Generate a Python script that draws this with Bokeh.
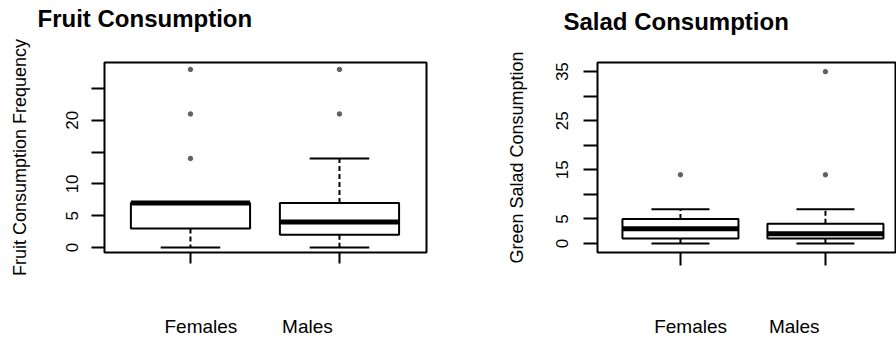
from bokeh.plotting import figure
from bokeh.models import LinearAxis, FixedTicker, Range1d, Title
from bokeh.layouts import row
from bokeh.embed import file_html
from bokeh.resources import INLINE

# ---- data ----
groups = ["Females", "Males"]
positions = [1, 2]

fruit_low = [0, 0]
fruit_q1 = [3, 2]
fruit_median = [7, 4]
fruit_q3 = [7, 7]
fruit_high = [7, 14]
fruit_out_x = [1, 1, 1, 2, 2]
fruit_out_y = [14, 21, 28, 21, 28]
fruit_ticks = [0, 5, 10, 15, 20, 25]
fruit_hidden = [15, 25]

salad_low = [0, 0]
salad_q1 = [1, 1]
salad_median = [3, 2]
salad_q3 = [5, 4]
salad_high = [7, 7]
salad_out_x = [1, 2, 2]
salad_out_y = [14, 14, 35]
salad_ticks = [0, 5, 10, 15, 20, 25, 30, 35]
salad_hidden = [10, 20, 30]

FONT = "Liberation Sans"
BOX_HALF = 0.4
CAP_HALF = 0.2
LABEL_SHIFT = [0.07, -0.215]   # group names are drawn offset from the boxes


def panel(title, ylabel, low, q1, med, q3, high, ox, oy, ticks, hidden,
          width, xr, yr, mbl, mbr, mbb, mbt, title_off, spacer_stand,
          ytick_out, ystand, ylab_stand, xtick_out, xlab_stand):
    p = figure(width=width, height=339, x_range=Range1d(*xr), y_range=Range1d(*yr),
               output_backend="svg", toolbar_location=None, title=None,
               min_border_left=mbl, min_border_right=mbr,
               min_border_bottom=mbb, min_border_top=mbt)
    p.xgrid.grid_line_color = None
    p.ygrid.grid_line_color = None
    p.outline_line_color = "black"
    p.outline_line_width = 2
    p.background_fill_color = "white"
    p.border_fill_color = "white"

    # spacer between frame and title, then the title itself
    p.add_layout(Title(text=" ", text_font_size="10px", standoff=spacer_stand), "above")
    p.add_layout(Title(text=title, text_font=FONT, text_font_size="24px",
                       text_font_style="bold", text_color="black", align="left",
                       offset=title_off, standoff=4), "above")

    ya = p.yaxis[0]
    ya.ticker = FixedTicker(ticks=ticks)
    ya.major_label_overrides = {t: "" for t in hidden}
    ya.major_label_orientation = "vertical"
    ya.major_label_text_font = FONT
    ya.major_label_text_font_size = "17px"
    ya.major_label_text_color = "black"
    ya.major_label_standoff = ystand
    ya.major_tick_out = ytick_out
    ya.major_tick_in = 0
    ya.major_tick_line_width = 2
    ya.major_tick_line_color = "black"
    ya.minor_tick_line_color = None
    ya.axis_line_color = None
    ya.axis_label = ylabel
    ya.axis_label_text_font = FONT
    ya.axis_label_text_font_size = "18px"
    ya.axis_label_text_font_style = "normal"
    ya.axis_label_text_color = "black"
    ya.axis_label_standoff = ylab_stand

    xa = p.xaxis[0]
    xa.ticker = FixedTicker(ticks=positions)
    xa.major_label_overrides = {t: "" for t in positions}
    xa.major_label_standoff = 0
    xa.major_tick_out = xtick_out
    xa.major_tick_in = 0
    xa.major_tick_line_width = 2
    xa.major_tick_line_color = "black"
    xa.minor_tick_line_color = None
    xa.axis_line_color = None

    lab_pos = [x + s for x, s in zip(positions, LABEL_SHIFT)]
    xa2 = LinearAxis(ticker=FixedTicker(ticks=lab_pos),
                     major_label_overrides={x: g for x, g in zip(lab_pos, groups)},
                     major_tick_out=0, major_tick_in=0, minor_tick_line_color=None,
                     major_tick_line_color=None, axis_line_color=None,
                     major_label_standoff=xlab_stand,
                     major_label_text_font=FONT, major_label_text_font_size="19px",
                     major_label_text_color="black")
    p.add_layout(xa2, "below")

    left = [x - BOX_HALF for x in positions]
    right = [x + BOX_HALF for x in positions]
    cl = [x - CAP_HALF for x in positions]
    cr = [x + CAP_HALF for x in positions]

    # whiskers
    p.segment(x0=positions, x1=positions, y0=q3, y1=high, line_color="black",
              line_width=2, line_dash="5 3")
    p.segment(x0=positions, x1=positions, y0=q1, y1=low, line_color="black",
              line_width=2, line_dash="5 3")
    # caps
    p.segment(x0=cl, x1=cr, y0=high, y1=high, line_color="black", line_width=2)
    p.segment(x0=cl, x1=cr, y0=low, y1=low, line_color="black", line_width=2)
    # boxes
    p.quad(left=left, right=right, bottom=q1, top=q3, fill_color="white",
           line_color="black", line_width=2)
    # medians
    p.segment(x0=left, x1=right, y0=med, y1=med, line_color="black", line_width=5)
    # outliers
    p.scatter(x=ox, y=oy, size=4.5, marker="circle", color="#606060")
    return p


p1 = panel("Fruit Consumption", "Fruit Consumption Frequency",
           fruit_low, fruit_q1, fruit_median, fruit_q3, fruit_high,
           fruit_out_x, fruit_out_y, fruit_ticks, fruit_hidden,
           450, (0.423, 2.584), (-0.79, 29.09), 104, 24, 87, 62, -67, 16,
           13, 13, 34, 11, 52)

p2 = panel("Salad Consumption", "Green Salad Consumption",
           salad_low, salad_q1, salad_median, salad_q3, salad_high,
           salad_out_x, salad_out_y, salad_ticks, salad_hidden,
           446, (0.428, 2.49), (-1.83, 36.86), 147, 0, 87, 62, -34, 13,
           14, 15, 27, 13, 50)

layout = row(p1, p2)
open("out.html", "w").write(file_html(layout, INLINE))
